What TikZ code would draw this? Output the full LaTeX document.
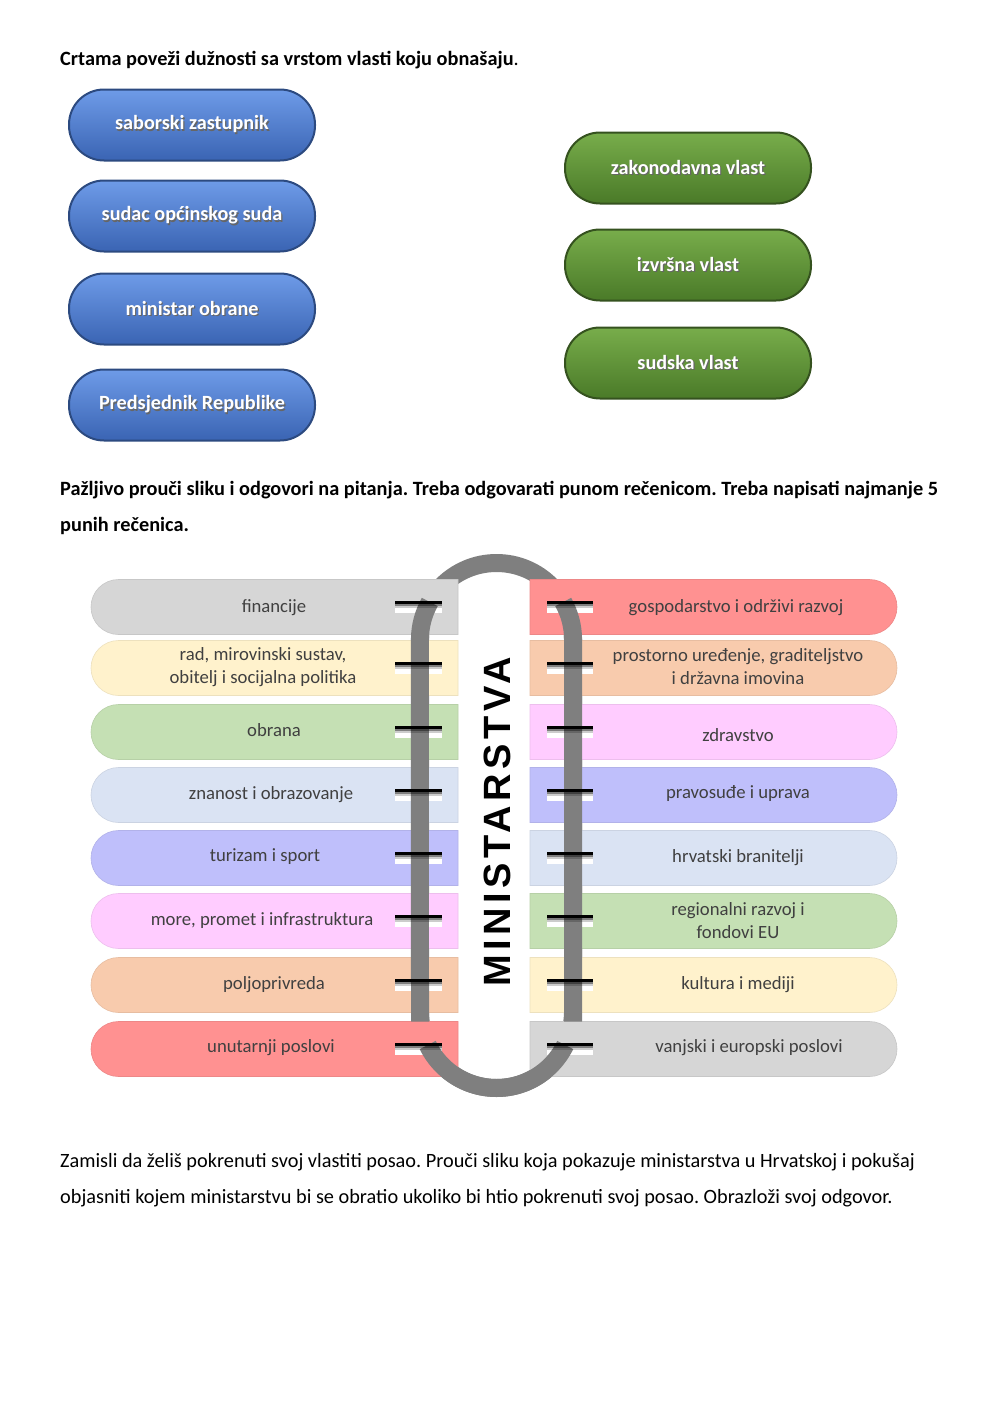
\documentclass[tikz,border=0pt]{standalone}
\usepackage{fontspec}
\setmainfont{Carlito}
\newfontfamily\ministfont{Liberation Sans}[LetterSpace=12]
\definecolor{pgray}{HTML}{D6D6D6}
\definecolor{pyellow}{HTML}{FFF2CC}
\definecolor{pgreen}{HTML}{C5E0B4}
\definecolor{pblue}{HTML}{DAE3F3}
\definecolor{plav}{HTML}{BFBFFB}
\definecolor{ppink}{HTML}{FFCCFF}
\definecolor{ppeach}{HTML}{F8CBAD}
\definecolor{pred}{HTML}{FF9191}
\definecolor{ringgray}{HTML}{7F7F7F}
\definecolor{ptext}{HTML}{404040}
\definecolor{btnblueT}{HTML}{6E9BE8}
\definecolor{btnblueM}{HTML}{4A78CC}
\definecolor{btnblueB}{HTML}{3A64B3}
\definecolor{btnblueD}{HTML}{2C4A80}
\definecolor{btngreenT}{HTML}{78AD4B}
\definecolor{btngreenM}{HTML}{5E8F35}
\definecolor{btngreenB}{HTML}{4A7A28}
\definecolor{btngreenD}{HTML}{35521F}
\newcommand\shtext[1]{\leavevmode\rlap{\kern1.2pt\raisebox{-1.4pt}{\textcolor{black!60}{#1}}}#1}
\frenchspacing
\begin{document}
\begin{tikzpicture}[x=1pt,y=-1pt,
  para/.style={anchor=base west, inner sep=0, font=\fontsize{20.3}{24}\selectfont},
  parab/.style={para, font=\bfseries\fontsize{20.3}{24}\selectfont},
  btn/.style={rectangle, rounded corners=35, minimum width=246, minimum height=71, align=center, line width=2,
    text=white, font=\bfseries\fontsize{20.2}{24}\selectfont},
  bluebtn/.style={btn, draw=btnblueD, top color=btnblueT, middle color=btnblueM, bottom color=btnblueB},
  greenbtn/.style={btn, draw=btngreenD, top color=btngreenT, middle color=btngreenM, bottom color=btngreenB},
  pilltext/.style={font=\fontsize{18.7}{23}\selectfont, text=ptext, align=center, inner sep=0},
  ring/.style={draw=ringgray, line width=18},
  slotline/.style={fill=black}]
\useasboundingbox[fill=white] (0,0) rectangle (1000,1413);

% ---- texts
\node[parab] (t1) at (60,66) {Crtama poveži dužnosti sa vrstom vlasti koju obnašaju\mdseries.};
\node[parab] (t2) at (60,495) {Pažljivo prouči sliku i odgovori na pitanja. Treba odgovarati punom rečenicom. Treba napisati najmanje 5};
\node[parab] (t3) at (60,531) {punih rečenica.};
\node[para] (t4) at (60,1167) {Zamisli da želiš pokrenuti svoj vlastiti posao. Prouči sliku koja pokazuje ministarstva u Hrvatskoj i pokušaj};
\node[para] (t5) at (60,1203) {objasniti kojem ministarstvu bi se obratio ukoliko bi htio pokrenuti svoj posao. Obrazloži svoj odgovor.};

% ---- buttons
\node[bluebtn] (b1) at (192,125) {\shtext{saborski zastupnik}};
\node[bluebtn] (b2) at (192,216) {\shtext{sudac općinskog suda}};
\node[bluebtn] (b3) at (192,309) {\shtext{ministar obrane}};
\node[bluebtn] (b4) at (192,405) {\shtext{Predsjednik Republike}};
\node[greenbtn] (g1) at (688,168) {\shtext{zakonodavna vlast}};
\node[greenbtn] (g2) at (688,265) {\shtext{izvršna vlast}};
\node[greenbtn] (g3) at (688,363) {\shtext{sudska vlast}};

% ---- ring (behind)
\draw[ring] (420,639.5) -- (420,1011.5) arc[start angle=180, end angle=0, radius=76.5]
  -- (573,639.5) arc[start angle=0, end angle=-180, radius=76.5] -- cycle;

% ---- pills
\foreach \y/\cl/\cr in {607/pgray/pred, 668/pyellow/ppeach, 732/pgreen/ppink, 795/pblue/plav,
                        858/plav/pblue, 921/ppink/pgreen, 985/ppeach/pyellow, 1049/pred/pgray} {
  \filldraw[fill=\cl, draw=\cl!93!black, line width=0.6]
    (458,\y-27.5) -- (118.5,\y-27.5) arc[start angle=-90, end angle=-270, radius=27.5] -- (458,\y+27.5) -- cycle;
  \filldraw[fill=\cr, draw=\cr!93!black, line width=0.6]
    (530,\y-27.5) -- (869.5,\y-27.5) arc[start angle=-90, end angle=90, radius=27.5] -- (530,\y+27.5) -- cycle;
  \fill[white] (395,\y-6) rectangle (442,\y+6);
  \fill[white] (547,\y-6) rectangle (593,\y+6);
}

% ---- ring parts in front
\draw[ring] (429.8,602) arc[start angle=209.4, end angle=180, radius=76.5] -- (420,1021.5);
\draw[ring] (563.2,602) arc[start angle=-29.4, end angle=0, radius=76.5] -- (573,1021.5);
\draw[ring] (427.7,1045) arc[start angle=154, end angle=26, radius=76.5];

% ---- slot edges
\foreach \y in {607,668,732,795,858,921,985,1049} {
  \fill[slotline] (395,\y-6) rectangle (442,\y-3);
  \fill[slotline, opacity=.5] (395,\y-3) rectangle (442,\y-1);
  \fill[slotline, opacity=.2] (395,\y-1) rectangle (442,\y+1);
  \fill[slotline] (547,\y-6) rectangle (593,\y-3);
  \fill[slotline, opacity=.5] (547,\y-3) rectangle (593,\y-1);
  \fill[slotline, opacity=.2] (547,\y-1) rectangle (593,\y+1);
}

% ---- pill labels
\node[pilltext] (l1) at (274,608) {financije};
\node[pilltext] (l2) at (263,667) {rad, mirovinski sustav,\\obitelj i socijalna politika};
\node[pilltext] (l3) at (274,730) {obrana};
\node[pilltext] (l4) at (271,795) {znanost i obrazovanje};
\node[pilltext] (l5) at (265,857) {turizam i sport};
\node[pilltext] (l6) at (262,921) {more, promet i infrastruktura};
\node[pilltext] (l7) at (274,985) {poljoprivreda};
\node[pilltext] (l8) at (271,1048) {unutarnji poslovi};
\node[pilltext] (r1) at (736,608) {gospodarstvo i održivi razvoj};
\node[pilltext] (r2) at (738,667) {prostorno uređenje, graditeljstvo\\i državna imovina};
\node[pilltext] (r3) at (738,735) {zdravstvo};
\node[pilltext] (r4) at (738,794) {pravosuđe i uprava};
\node[pilltext] (r5) at (738,858) {hrvatski branitelji};
\node[pilltext] (r6) at (738,921) {regionalni razvoj i\\fondovi EU};
\node[pilltext] (r7) at (738,985) {kultura i mediji};
\node[pilltext] (r8) at (749,1048) {vanjski i europski poslovi};

% ---- center title
\node[rotate=90, inner sep=0, font=\ministfont\bfseries\fontsize{38}{38}\selectfont] (mini) at (497,822) {MINISTARSTVA};
\end{tikzpicture}
\end{document}
